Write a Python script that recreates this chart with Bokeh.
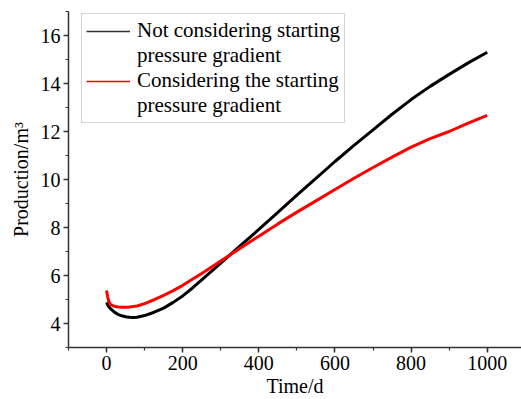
from bokeh.plotting import figure
from bokeh.models import Range1d, Legend, LegendItem, FixedTicker
from bokeh.embed import file_html
from bokeh.resources import INLINE

# Cumulative production over time, with and without a starting pressure gradient
time_black = [0, 5, 10, 20, 30, 40, 50, 60, 70, 80, 100, 125, 150, 175, 200,
              225, 250, 300, 350, 400, 450, 500, 550, 600, 650, 700, 750, 800,
              850, 900, 950, 1000]
prod_black = [4.88, 4.72, 4.62, 4.48, 4.38, 4.32, 4.28, 4.26, 4.25, 4.26, 4.33,
              4.47, 4.64, 4.88, 5.15, 5.47, 5.82, 6.52, 7.22, 7.92, 8.63, 9.35,
              10.05, 10.75, 11.42, 12.07, 12.72, 13.33, 13.88, 14.38, 14.86, 15.3]

time_red = [0, 3, 6, 10, 20, 30, 40, 50, 60, 80, 100, 125, 150, 175, 200,
            250, 300, 350, 400, 450, 500, 550, 600, 650, 700, 750, 800,
            850, 900, 950, 1000]
prod_red = [5.38, 5.1, 4.92, 4.8, 4.72, 4.69, 4.68, 4.68, 4.69, 4.73, 4.83,
            4.99, 5.17, 5.37, 5.59, 6.08, 6.6, 7.13, 7.64, 8.15, 8.64, 9.11,
            9.58, 10.05, 10.5, 10.93, 11.35, 11.7, 12.0, 12.35, 12.67]

# legend text, one entry per printed line
legend_lines_black = ["Not considering starting", "pressure gradient"]
legend_lines_red = ["Considering the starting", "pressure gradient"]

x_ticks = [0, 200, 400, 600, 800, 1000]
y_ticks = [4, 6, 8, 10, 12, 14, 16]

FONT = "Liberation Serif"

p = figure(width=521, height=399, output_backend="svg", toolbar_location=None,
           x_range=Range1d(-100, 1090), y_range=Range1d(3, 17),
           min_border_left=68, min_border_right=0, min_border_top=11,
           min_border_bottom=52)
p.outline_line_color = None
p.grid.visible = False
p.background_fill_color = "white"
p.border_fill_color = "white"

p.line(time_black, prod_black, line_color="black", line_width=3)
p.line(time_red, prod_red, line_color="#ff0000", line_width=3)

# thinner single-point stand-ins for the legend swatches (draw nothing in the plot),
# plus a transparent one for the wrapped second lines
key_black = p.line(time_black[:1], prod_black[:1], line_color="#333333", line_width=1.5)
key_red = p.line(time_red[:1], prod_red[:1], line_color="#ff0000", line_width=1.5)
key_blank = p.line(time_red[:1], prod_red[:1], line_alpha=0)

for ax in (p.xaxis[0], p.yaxis[0]):
    ax.axis_line_color = "#333333"
    ax.axis_line_width = 1.5
    ax.major_tick_line_color = "#333333"
    ax.minor_tick_line_color = "#333333"
    ax.major_tick_line_width = 1.5
    ax.minor_tick_line_width = 1.2
    ax.major_tick_in = 0
    ax.major_tick_out = 5
    ax.minor_tick_in = 0
    ax.minor_tick_out = 3
    ax.major_label_text_font = FONT
    ax.major_label_text_font_size = "20px"
    ax.major_label_text_color = "black"
    ax.axis_label_text_font = FONT
    ax.axis_label_text_font_size = "20px"
    ax.axis_label_text_font_style = "normal"
    ax.axis_label_text_color = "black"

p.xaxis.ticker = FixedTicker(ticks=x_ticks, minor_ticks=list(range(-100, 1100, 100)))
p.yaxis.ticker = FixedTicker(ticks=y_ticks, minor_ticks=list(range(3, 18)))
p.xaxis.axis_label = "Time/d"
p.yaxis.axis_label = "Production/m³"
p.xaxis.major_label_standoff = 3
p.yaxis.major_label_standoff = 3
p.xaxis.axis_label_standoff = 2
p.yaxis.axis_label_standoff = 6

items = [
    LegendItem(label=legend_lines_black[0], renderers=[key_black]),
    LegendItem(label=legend_lines_black[1], renderers=[key_blank]),
    LegendItem(label=legend_lines_red[0], renderers=[key_red]),
    LegendItem(label=legend_lines_red[1], renderers=[key_blank]),
]
legend = Legend(items=items, location=(13, 224))
legend.label_text_font = FONT
legend.label_text_font_size = "21px"
legend.label_text_color = "black"
legend.label_height = 20
legend.glyph_height = 20
legend.border_line_color = "#aaaaaa"
legend.border_line_width = 1.5
legend.background_fill_alpha = 1.0
legend.glyph_width = 44
legend.label_standoff = 7
legend.padding = 4
legend.spacing = 0
legend.margin = 0
p.add_layout(legend)

open("out.html", "w").write(file_html(p, INLINE))
